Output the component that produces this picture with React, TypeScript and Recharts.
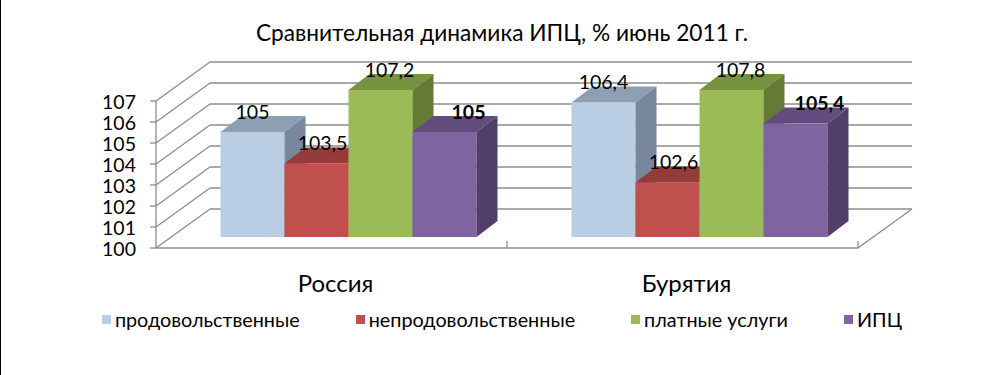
import React from "react";
import {
  BarChart,
  Bar,
  XAxis,
  YAxis,
  CartesianGrid,
  ReferenceLine,
  Legend,
  LabelList,
} from "recharts";

// Сравнительная динамика ИПЦ, июнь 2011 г. (3D-style column chart)

const REGIONS = ["Россия", "Бурятия"];
const FOOD = [105, 106.4];
const NON_FOOD = [103.5, 102.6];
const PAID_SERVICES = [107.2, 107.8];
const CPI = [105, 105.4];

const Y_MIN = 100;
const Y_MAX = 107;
const Y_TICKS = [100, 101, 102, 103, 104, 105, 106, 107];

const FONT = "Lato, 'Open Sans', sans-serif";
const GRID = "#8c8c8c";

// pseudo-3D offsets, relative to the plane the bars stand on
const FRONT = { dx: -16.5, dy: 11 };
const BACK = { dx: 37.5, dy: -28 };
const DEPTH = { dx: 21, dy: -16 };

const SERIES = [
  { key: "food", name: "продовольственные", values: FOOD, front: "#b9cde5", top: "#8e9fb4", side: "#77889c", labelDx: 0, bold: false },
  { key: "nonFood", name: "непродовольственные", values: NON_FOOD, front: "#c0504d", top: "#953b39", side: "#7f3331", labelDx: 6, bold: false },
  { key: "services", name: "платные услуги", values: PAID_SERVICES, front: "#9bbb59", top: "#77923f", side: "#647a35", labelDx: 9, bold: false },
  { key: "cpi", name: "ИПЦ", values: CPI, front: "#8064a2", top: "#624c7e", side: "#513f69", labelDx: 24, bold: true },
];

// Excel draws columns above the axis maximum cut at the maximum; labels keep the real value
const data = REGIONS.map((name, i) => {
  const row: Record<string, string | number> = { name };
  for (const s of SERIES) {
    row[s.key] = Math.min(s.values[i], Y_MAX);
    row[s.key + "Raw"] = s.values[i];
  }
  return row;
});

const fmt = (v: number) => String(v).replace(".", ",");

function Box3D(props: any) {
  const { x, y, width: w, height: h, front, top, side } = props;
  if (w == null || h == null) return null;
  const { dx, dy } = DEPTH;
  return (
    <g>
      <rect x={x} y={y} width={w} height={h} fill={front} />
      <polygon
        points={`${x},${y} ${x + dx},${y + dy} ${x + w + dx},${y + dy} ${x + w},${y}`}
        fill={top}
      />
      <polygon
        points={`${x + w},${y} ${x + w + dx},${y + dy} ${x + w + dx},${y + h + dy} ${x + w},${y + h}`}
        fill={side}
      />
    </g>
  );
}

function WallLine(p: any) {
  const { x1, x2, y1, index } = p;
  return (
    <g key={`wall-${index}`}>
      <line x1={x1 + BACK.dx} y1={y1 + BACK.dy} x2={x2 + BACK.dx} y2={y1 + BACK.dy} stroke={GRID} strokeWidth={1.3} />
      <line x1={x1 + FRONT.dx} y1={y1 + FRONT.dy} x2={x1 + BACK.dx} y2={y1 + BACK.dy} stroke={GRID} strokeWidth={1.3} />
    </g>
  );
}

function Floor(p: any) {
  const { x1, x2, y1 } = p;
  const fy = y1 + FRONT.dy;
  const n = REGIONS.length;
  return (
    <g>
      <line x1={x1 + FRONT.dx} y1={fy} x2={x2 + FRONT.dx} y2={fy} stroke={GRID} strokeWidth={1.3} />
      <line x1={x2 + FRONT.dx} y1={fy} x2={x2 + BACK.dx} y2={y1 + BACK.dy} stroke={GRID} strokeWidth={1.3} />
      {REGIONS.map((_, i) => {
        const tx = x1 + FRONT.dx + ((x2 - x1) * (i + 1)) / n;
        return <line key={i} x1={tx} y1={fy} x2={tx} y2={fy - 7} stroke={GRID} strokeWidth={1.3} />;
      })}
    </g>
  );
}

function YTick(p: any) {
  const { x, y, payload } = p;
  const fx = x + FRONT.dx;
  const fy = y + FRONT.dy;
  return (
    <g>
      <line x1={fx - 6} y1={fy} x2={fx} y2={fy} stroke={GRID} strokeWidth={1.3} />
      <text x={fx - 20} y={fy} textAnchor="end" dominantBaseline="central" fontFamily={FONT} fontSize={19.5} fill="#000">
        {payload.value}
      </text>
    </g>
  );
}

function XTick(p: any) {
  const { x, y, payload } = p;
  return (
    <text x={x + FRONT.dx + 4} y={y + 45} textAnchor="middle" dominantBaseline="central" fontFamily={FONT} fontSize={24} fill="#000">
      {payload.value}
    </text>
  );
}

function makeLabel(s: (typeof SERIES)[number]) {
  return (p: any) => {
    const { x, y, width, value } = p;
    return (
      <text
        x={x + width / 2 + s.labelDx}
        y={y - 21}
        textAnchor="middle"
        dominantBaseline="central"
        fontFamily={FONT}
        fontSize={19.5}
        fontWeight={s.bold ? 700 : 400}
        fill="#000"
      >
        {fmt(value)}
      </text>
    );
  };
}

function LegendRow() {
  return (
    <div style={{ display: "flex", justifyContent: "center", gap: 56, fontFamily: FONT, fontSize: 19.8, color: "#000", lineHeight: "22px" }}>
      {SERIES.map((s) => (
        <div key={s.key} style={{ display: "flex", alignItems: "center", gap: 4 }}>
          <span style={{ width: 9, height: 9, background: s.front, display: "inline-block" }} />
          <span>{s.name}</span>
        </div>
      ))}
    </div>
  );
}

export default function App() {
  return (
    <div style={{ position: "absolute", left: 0, top: 0, width: 1004, height: 375, background: "#fff" }}>
      <div style={{ position: "absolute", left: 0, top: 0, width: 1, height: 375, background: "#000" }} />
      <div
        style={{
          position: "absolute",
          top: 18,
          left: 0,
          width: 1004,
          textAlign: "center",
          fontFamily: FONT,
          fontSize: 22.7,
          lineHeight: "30px",
          color: "#000",
        }}
      >
        Сравнительная динамика ИПЦ, % июнь 2011 г.
      </div>
      <BarChart
        width={1004}
        height={375}
        data={data}
        margin={{ top: 90, right: 129.5, bottom: 137, left: 171.5 }}
        barSize={64}
        barGap={0}
      >
        <CartesianGrid vertical={false} horizontal={WallLine} />
        <XAxis dataKey="name" height={1} axisLine={false} tickLine={false} tickSize={0} tickMargin={0} tick={XTick} interval={0} />
        <YAxis
          type="number"
          domain={[Y_MIN, Y_MAX]}
          ticks={Y_TICKS}
          width={1}
          tickSize={0}
          tickMargin={0}
          tickLine={false}
          axisLine={{ stroke: GRID, strokeWidth: 1.3, transform: `translate(${FRONT.dx}, ${FRONT.dy})` }}
          tick={YTick}
          interval={0}
        />
        <ReferenceLine y={Y_MIN} shape={Floor} />
        {SERIES.map((s) => (
          <Bar
            key={s.key}
            dataKey={s.key}
            name={s.name}
            fill={s.front}
            isAnimationActive={false}
            shape={(p: any) => <Box3D {...p} front={s.front} top={s.top} side={s.side} />}
          >
            <LabelList dataKey={s.key + "Raw"} content={makeLabel(s)} />
          </Bar>
        ))}
        <Legend
          layout="horizontal"
          verticalAlign="middle"
          align="center"
          content={LegendRow}
          wrapperStyle={{ top: 308, left: 0, width: 1004 }}
        />
      </BarChart>
    </div>
  );
}
